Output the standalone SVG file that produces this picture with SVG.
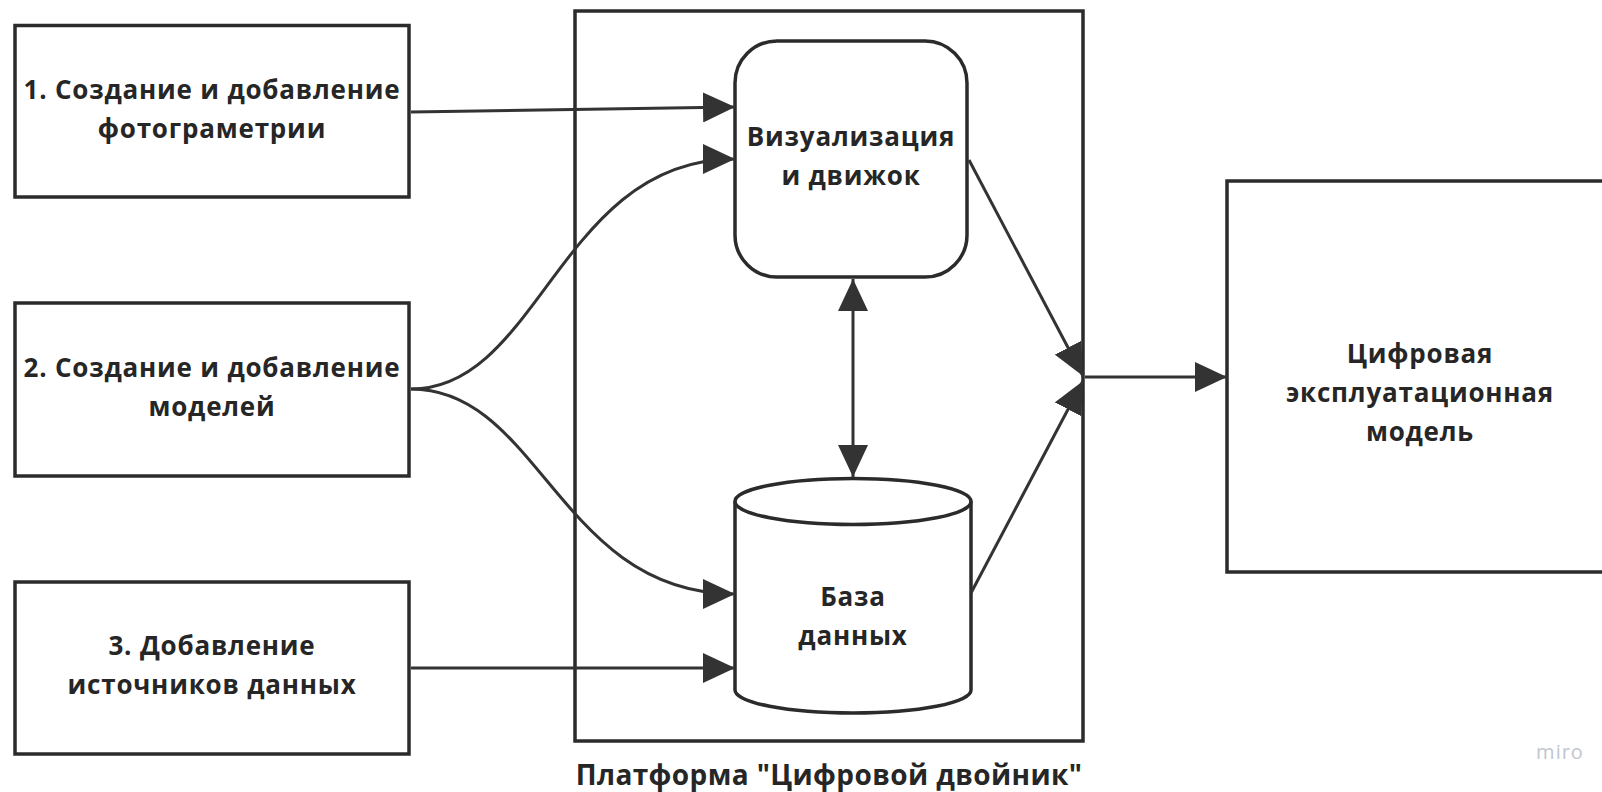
<svg xmlns="http://www.w3.org/2000/svg" width="1602" height="792" viewBox="0 0 1602 792">
<defs>
<style>
.box{fill:#fff;stroke:#2b2b2b;stroke-width:3.5}
.t{font-family:"Open Sans","Noto Sans","DejaVu Sans",sans-serif;font-weight:700;font-size:26px;letter-spacing:0.8px;fill:#262626;text-anchor:middle}
.c{fill:none;stroke:#333;stroke-width:3}
</style>
<marker id="ah" viewBox="0 0 32 30" refX="32" refY="15" markerWidth="32" markerHeight="30" markerUnits="userSpaceOnUse" orient="auto">
<path d="M0 0L32 15L0 30z" fill="#333"/>
</marker>
<marker id="ahs" viewBox="0 0 32 30" refX="0" refY="15" markerWidth="32" markerHeight="30" markerUnits="userSpaceOnUse" orient="auto">
<path d="M32 0L0 15L32 30z" fill="#333"/>
</marker>
</defs>
<rect width="1602" height="792" fill="#fff"/>
<g id="platform">
<rect class="box" x="575" y="11" width="508" height="730"/>
<text class="t" x="829" y="785" style="font-size:28px;letter-spacing:0.4px">Платформа "Цифровой двойник"</text>
</g>
<g id="n1">
<rect class="box" x="15" y="25.5" width="394" height="171.5"/>
<text class="t" x="212" y="99">1. Создание и добавление</text>
<text class="t" x="212" y="138">фотограметрии</text>
</g>
<g id="n2">
<rect class="box" x="15" y="303" width="394" height="173"/>
<text class="t" x="212" y="377">2. Создание и добавление</text>
<text class="t" x="212" y="416">моделей</text>
</g>
<g id="n3">
<rect class="box" x="15" y="582" width="394" height="172"/>
<text class="t" x="212" y="655">3. Добавление</text>
<text class="t" x="212" y="694">источников данных</text>
</g>
<g id="viz">
<rect class="box" x="735" y="41" width="232" height="236" rx="42" ry="42"/>
<text class="t" x="851" y="146">Визуализация</text>
<text class="t" x="851" y="185">и движок</text>
</g>
<g id="db">
<path class="box" d="M735 501.5 L735 690 A118 23 0 0 0 971 690 L971 501.5 A118 23 0 0 0 735 501.5 Z"/>
<path class="box" style="fill:none" d="M735 501.5 A118 23 0 0 0 971 501.5"/>
<text class="t" x="853" y="606">База</text>
<text class="t" x="853" y="645">данных</text>
</g>
<g id="model">
<rect class="box" x="1227" y="181" width="390" height="391"/>
<text class="t" x="1420" y="363">Цифровая</text>
<text class="t" x="1420" y="402">эксплуатационная</text>
<text class="t" x="1420" y="441">модель</text>
</g>
<g id="connectors">
<path class="c" d="M411 112 L735 107" marker-end="url(#ah)"/>
<path class="c" d="M411 389 C540 389 560 159 735 159" marker-end="url(#ah)"/>
<path class="c" d="M411 389 C540 389 560 594 735 594" marker-end="url(#ah)"/>
<path class="c" d="M411 668 L735 668" marker-end="url(#ah)"/>
<path class="c" d="M853 279 L853 477" marker-start="url(#ahs)" marker-end="url(#ah)"/>
<path class="c" d="M969 160 L1083 376" marker-end="url(#ah)"/>
<path class="c" d="M971 593 L1083 381" marker-end="url(#ah)"/>
<path class="c" d="M1085 377 L1227 377" marker-end="url(#ah)"/>
</g>
<text x="1560" y="759" style="font-family:'Open Sans','Noto Sans',sans-serif;font-size:20px;letter-spacing:1px;fill:#c2c6ce;text-anchor:middle">miro</text>
</svg>
